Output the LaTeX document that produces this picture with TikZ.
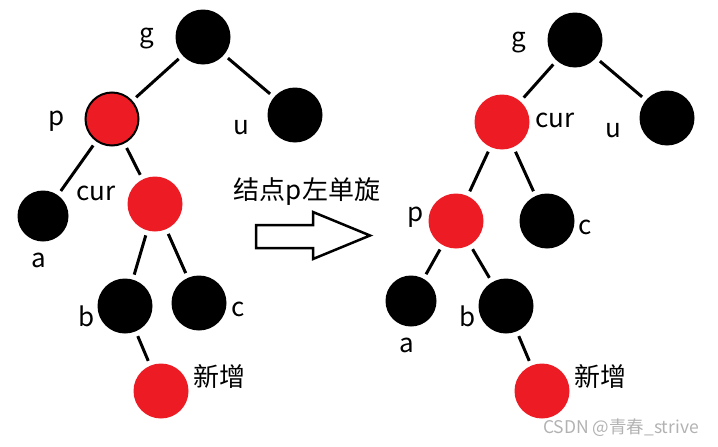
\documentclass[tikz,border=0pt]{standalone}
\usepackage{fontspec}
\setmainfont{Noto Sans CJK SC}
\usepackage{tikz}
\definecolor{paintred}{RGB}{237,28,36}

\begin{document}
\begin{tikzpicture}[x=1pt, y=-1pt,
    blknode/.style={circle, fill=black, minimum size=55pt, inner sep=0pt},
    rednode/.style={circle, fill=paintred, minimum size=55pt, inner sep=0pt},
    lab/.style={inner sep=0pt, font=\fontsize{26}{30}\selectfont},
    link/.style={line width=3pt, shorten <=5pt, shorten >=5pt}]
  \useasboundingbox (0,0) rectangle (718,447);
  % Before rotation
  \node[blknode] (Lg) at (203,37) {};
  \node[rednode, draw=black, line width=2pt, minimum size=53pt] (Lp) at (112,119) {};
  \node[blknode] (Lu) at (295,115) {};
  \node[blknode, minimum size=51pt] (La) at (43,216) {};
  \node[rednode] (Lcur) at (155,204) {};
  \node[blknode] (Lb) at (125,306) {};
  \node[blknode] (Lc) at (199,303) {};
  \node[rednode] (Lnew) at (161,391) {};
  \draw[link] (Lg) -- (Lp);
  \draw[link] (Lg) -- (Lu);
  \draw[link] (Lp) -- (La);
  \draw[link] (Lp) -- (Lcur);
  \draw[link] (Lcur) -- (Lb);
  \draw[link] (Lcur) -- (Lc);
  \draw[link] (Lb) -- (Lnew);
  \node[lab] (tLg) at (147,39) {g};
  \node[lab] (tLp) at (57,121) {p};
  \node[lab] (tLu) at (241,128) {u};
  \node[lab] (tLcur) at (96,193) {cur};
  \node[lab] (tLa) at (39,260) {a};
  \node[lab] (tLb) at (87,316) {b};
  \node[lab] (tLc) at (238,309) {c};
  \node[lab] (tLnew) at (219,377) {新增};
  % Rotation arrow
  \node[lab] (rot) at (307,192) {结点p左单旋};
  \draw[line width=2.5pt] (256,225) -- (313,225) -- (313,212) -- (370,235.5)
    -- (313,259) -- (313,248) -- (256,248) -- cycle;
  % After rotation
  \node[blknode] (Rg) at (575,40) {};
  \node[rednode] (Rcur) at (502,122) {};
  \node[blknode] (Ru) at (667,118) {};
  \node[rednode] (Rp) at (456,221) {};
  \node[blknode] (Rc) at (547,221) {};
  \node[blknode, minimum size=51pt] (Ra) at (411,301) {};
  \node[blknode] (Rb) at (506,306) {};
  \node[rednode] (Rnew) at (542,391) {};
  \draw[link] (Rg) -- (Rcur);
  \draw[link] (Rg) -- (Ru);
  \draw[link] (Rcur) -- (Rp);
  \draw[link] (Rcur) -- (Rc);
  \draw[link] (Rp) -- (Ra);
  \draw[link] (Rp) -- (Rb);
  \draw[link] (Rb) -- (Rnew);
  \node[lab] (tRg) at (519,43) {g};
  \node[lab] (tRcur) at (555,120) {cur};
  \node[lab] (tRu) at (613,131) {u};
  \node[lab] (tRp) at (416,217) {p};
  \node[lab] (tRc) at (585,227) {c};
  \node[lab] (tRa) at (407,345) {a};
  \node[lab] (tRb) at (468,316) {b};
  \node[lab] (tRnew) at (600,377) {新增};
  % Watermark
  \node[inner sep=0pt, font=\fontsize{17.5}{20}\selectfont, text=gray!60] (mark) at (621,428) {CSDN @青春\_strive};
\end{tikzpicture}
\end{document}
